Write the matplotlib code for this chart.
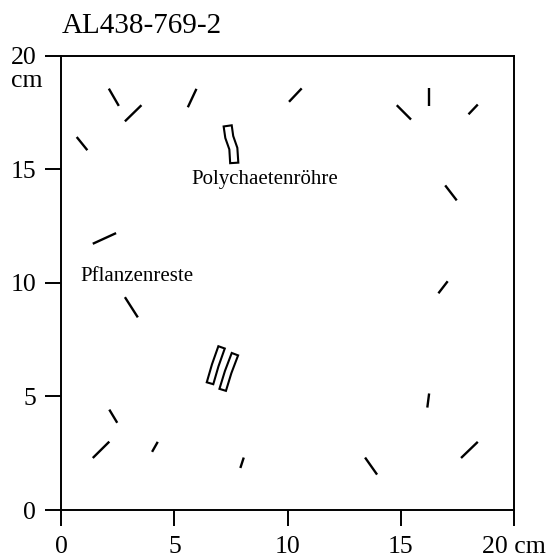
import numpy as np
import matplotlib.pyplot as plt
from matplotlib.patches import Polygon

plt.rcParams['font.family'] = ['Liberation Serif', 'DejaVu Serif']

title = "AL438-769-2"
ticks = [0, 5, 10, 15, 20]
xtick_labels = ['0', '5', '10', '15', '20 cm']
ytick_labels = ['0', '5', '10', '15', '20']
y_unit = "cm"

# short plant fragments: start / end points in cm
seg_x0 = [2.10, 2.81, 5.59, 0.68, 1.39, 10.06, 14.82, 16.25, 17.99, 16.96,
          16.66, 2.81, 2.12, 1.39, 4.01, 7.91, 13.42, 16.17, 17.66]
seg_y0 = [18.55, 17.11, 17.73, 16.42, 11.72, 17.97, 17.82, 18.56, 17.42, 14.29,
          9.54, 9.37, 4.42, 2.29, 2.56, 1.85, 2.31, 4.51, 2.29]
seg_x1 = [2.54, 3.54, 5.97, 1.15, 2.42, 10.62, 15.45, 16.25, 18.40, 17.47,
          17.07, 3.38, 2.47, 2.12, 4.26, 8.06, 13.95, 16.25, 18.40]
seg_y1 = [17.79, 17.82, 18.54, 15.84, 12.19, 18.56, 17.19, 17.79, 17.85, 13.63,
          10.07, 8.48, 3.84, 3.01, 3.00, 2.31, 1.56, 5.13, 3.00]

# tube centre lines
poly_x = [7.35, 7.42, 7.60, 7.64]
poly_y = [16.91, 16.42, 15.91, 15.28]
tube1_x = [7.08, 6.80, 6.57]
tube1_y = [7.16, 6.37, 5.58]
tube2_x = [7.67, 7.37, 7.13]
tube2_y = [6.86, 6.07, 5.29]

labels = ["Polychaetenröhre", "Pflanzenreste"]
label_x = [9.0, 3.33]
label_y = [14.56, 10.28]


def tube(ax, xs, ys, w):
  p = np.column_stack([xs, ys])
  t = np.gradient(p, axis=0)
  t = t / np.linalg.norm(t, axis=1)[:, None]
  n = np.column_stack([-t[:, 1], t[:, 0]])
  pts = np.vstack([p + n * w / 2, (p - n * w / 2)[::-1]])
  ax.add_patch(Polygon(pts, closed=True, fc='white', ec='black', lw=1.5))


fig = plt.figure(figsize=(5.46, 5.58), dpi=100)
ax = fig.add_axes([0.1123, 0.0860, 0.8291, 0.8142])

for i in range(len(seg_x0)):
  ax.plot([seg_x0[i], seg_x1[i]], [seg_y0[i], seg_y1[i]], color='black',
          lw=1.7, solid_capstyle='butt')

tube(ax, poly_x, poly_y, 0.36)
tube(ax, tube1_x, tube1_y, 0.30)
tube(ax, tube2_x, tube2_y, 0.30)

for i in range(len(labels)):
  ax.text(label_x[i], label_y[i], labels[i], fontsize=15, ha='center', va='center')

ax.set_xlim(0, 20)
ax.set_ylim(0, 20)
ax.set_xticks(ticks)
ax.set_xticklabels(xtick_labels)
ax.set_yticks(ticks)
ax.set_yticklabels(ytick_labels)
ax.tick_params(direction='out', length=11.5, width=1.4, labelsize=18.5)
ax.tick_params(axis='x', pad=7)
ax.tick_params(axis='y', pad=6.5)
for s in ax.spines.values():
  s.set_linewidth(1.4)

# unit under the top y label
ax.annotate(y_unit, xy=(0, 20), xycoords='data', xytext=(-35, -25),
            textcoords='offset pixels', fontsize=18.5, ha='center', va='center',
            annotation_clip=False)

fig.text(0.113, 0.953, title, fontsize=21, ha='left', va='center')

fig.savefig('out.png', dpi=100)
